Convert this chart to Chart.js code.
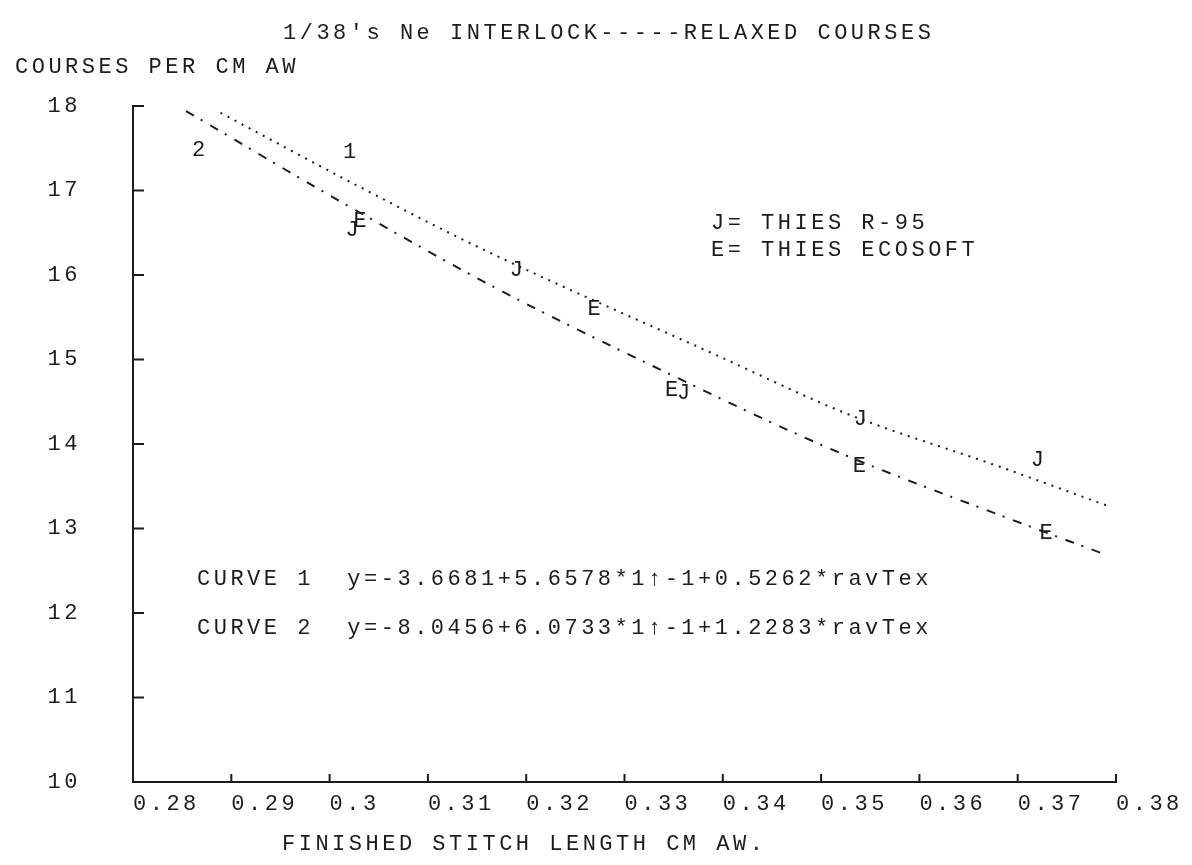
<!DOCTYPE html>
<html>
<head>
<meta charset="utf-8">
<script src="https://cdn.jsdelivr.net/npm/chart.js@4.4.0/dist/chart.umd.min.js"></script>
<style>
  html, body { margin: 0; padding: 0; background: #fff; }
  #wrap { width: 1192px; height: 865px; }
</style>
</head>
<body>
<div id="wrap"><canvas id="chart" width="1192" height="865"></canvas></div>
<script>
// axis ticks
const xTicks = [0.28, 0.29, 0.3, 0.31, 0.32, 0.33, 0.34, 0.35, 0.36, 0.37, 0.38];
const yTicks = [10, 11, 12, 13, 14, 15, 16, 17, 18];

// curve 1 (dotted)
const curve1X = [0.2889, 0.3031, 0.3153, 0.3390, 0.3526, 0.3682, 0.3791];
const curve1Y = [17.92, 17.04, 16.32, 15.07, 14.36, 13.73, 13.27];

// curve 2 (dash-dot)
const curve2X = [0.2854, 0.3005, 0.3170, 0.3340, 0.3512, 0.3695, 0.3785];
const curve2Y = [17.94, 16.91, 15.84, 14.86, 13.93, 13.10, 12.71];

// J = THIES R-95
const jX = [0.3023, 0.3190, 0.3360, 0.3540, 0.3720];
const jY = [16.53, 16.06, 14.60, 14.29, 13.81];

// E = THIES ECOSOFT
const eX = [0.3031, 0.3269, 0.3348, 0.3539, 0.3729];
const eY = [16.64, 15.59, 14.64, 13.74, 12.95];

const title = "1/38's Ne INTERLOCK-----RELAXED COURSES";
const yTitle = 'COURSES PER CM AW';
const xTitle = 'FINISHED STITCH LENGTH CM AW.';
const legendLines = ['J= THIES R-95', 'E= THIES ECOSOFT'];
const equations = [
    'CURVE 1  y=-3.6681+5.6578*1\u2191-1+0.5262*ravTex',
    'CURVE 2  y=-8.0456+6.0733*1\u2191-1+1.2283*ravTex'
];

const ink = '#1c1c1c';
const fontFamily = "'Liberation Mono', 'DejaVu Sans Mono', monospace";
const fontSize = 22;
const spacing = '3.5px';

const toPoints = (xs, ys) => xs.map((x, i) => ({ x, y: ys[i] }));

const letterPlugin = {
    id: 'letters',
    afterDatasetsDraw(chart) {
        const ctx = chart.ctx;
        ctx.save();
        ctx.letterSpacing = '0px';
        ctx.font = `${fontSize}px ${fontFamily}`;
        ctx.fillStyle = ink;
        ctx.textAlign = 'center';
        ctx.textBaseline = 'middle';
        chart.data.datasets.forEach((ds, i) => {
            if (!ds.letter) return;
            chart.getDatasetMeta(i).data.forEach(pt => {
                ctx.fillText(ds.letter, pt.x, pt.y);
            });
        });
        ctx.restore();
    }
};

const framePlugin = {
    id: 'frame',
    beforeDraw(chart) {
        chart.ctx.letterSpacing = spacing;
    },
    afterDraw(chart) {
        const ctx = chart.ctx;
        const { left, bottom } = chart.chartArea;
        const xs = chart.scales.x, ys = chart.scales.y;
        ctx.save();
        ctx.strokeStyle = ink;
        ctx.lineWidth = 2;
        ctx.beginPath();
        yTicks.forEach(v => {
            const py = ys.getPixelForValue(v);
            ctx.moveTo(left, py);
            ctx.lineTo(left + 11, py);
        });
        xTicks.forEach(v => {
            const px = xs.getPixelForValue(v);
            ctx.moveTo(px, bottom);
            ctx.lineTo(px, bottom - 8);
        });
        ctx.stroke();

        ctx.fillStyle = ink;
        ctx.font = `${fontSize}px ${fontFamily}`;
        ctx.letterSpacing = spacing;
        ctx.textBaseline = 'middle';
        ctx.textAlign = 'left';
        ctx.fillText(title, 283, 33);
        ctx.fillText(yTitle, 15, 67);
        ctx.fillText(xTitle, 282, 844);
        ctx.fillText(legendLines[0], 711, 223);
        ctx.fillText(legendLines[1], 711, 250);
        ctx.fillText(equations[0], 197, 579);
        ctx.fillText(equations[1], 197, 628);
        ctx.fillText('1', 343, 152);
        ctx.fillText('2', 192, 150);
        ctx.restore();
    }
};

new Chart(document.getElementById('chart'), {
    type: 'line',
    data: {
        datasets: [
            {
                label: 'Curve 1',
                data: toPoints(curve1X, curve1Y),
                borderColor: ink,
                borderWidth: 2,
                borderDash: [2, 6],
                pointRadius: 0,
                cubicInterpolationMode: 'monotone',
                fill: false
            },
            {
                label: 'Curve 2',
                data: toPoints(curve2X, curve2Y),
                borderColor: ink,
                borderWidth: 2,
                borderDash: [9, 8, 2, 9],
                pointRadius: 0,
                cubicInterpolationMode: 'monotone',
                fill: false
            },
            {
                label: 'THIES R-95',
                letter: 'J',
                data: toPoints(jX, jY),
                showLine: false,
                pointRadius: 0
            },
            {
                label: 'THIES ECOSOFT',
                letter: 'E',
                data: toPoints(eX, eY),
                showLine: false,
                pointRadius: 0
            }
        ]
    },
    options: {
        responsive: false,
        animation: false,
        devicePixelRatio: 1,
        layout: { padding: { top: 106, right: 76, left: 0, bottom: 0 } },
        scales: {
            x: {
                type: 'linear',
                min: 0.28,
                max: 0.38,
                afterBuildTicks: scale => { scale.ticks = xTicks.map(v => ({ value: v })); },
                afterFit: scale => { scale.height = 83; },
                grid: { display: false, drawTicks: false },
                border: { display: true, color: ink, width: 2 },
                ticks: {
                    align: 'start',
                    padding: 9,
                    color: ink,
                    font: { family: fontFamily, size: fontSize },
                    callback: v => String(Number(v.toFixed(2)))
                }
            },
            y: {
                type: 'linear',
                min: 10,
                max: 18,
                afterBuildTicks: scale => { scale.ticks = yTicks.map(v => ({ value: v })); },
                afterFit: scale => { scale.width = 133; },
                grid: { display: false, drawTicks: false },
                border: { display: true, color: ink, width: 2 },
                ticks: {
                    padding: 52,
                    color: ink,
                    font: { family: fontFamily, size: fontSize },
                    callback: v => String(v)
                }
            }
        },
        plugins: {
            legend: { display: false },
            tooltip: { enabled: false },
            title: { display: false }
        }
    },
    plugins: [letterPlugin, framePlugin]
});
</script>
</body>
</html>
